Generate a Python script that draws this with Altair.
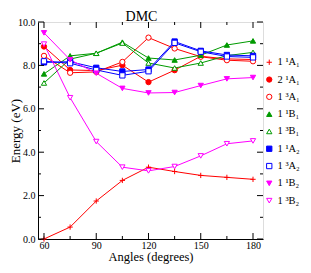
import altair as alt
import pandas as pd

angles = [60, 75, 90, 105, 120, 135, 150, 165, 180]
series_names = ["1 ¹A₁", "2 ¹A₁", "1 ³A₁", "1 ¹B₁", "1 ³B₁",
                "1 ¹A₂", "1 ³A₂", "1 ¹B₂", "1 ³B₂"]
e_11A1 = [0.00, 0.55, 1.75, 2.70, 3.31, 3.11, 2.93, 2.84, 2.75]
e_21A1 = [8.87, 7.79, 7.76, 8.01, 7.23, 7.78, 8.42, 8.30, 8.27]
e_13A1 = [8.44, 7.66, 7.70, 8.16, 9.28, 8.78, 8.40, 8.24, 8.19]
e_11B1 = [7.61, 8.44, 8.56, 9.07, 8.34, 8.25, 8.47, 8.94, 9.13]
e_13B1 = [7.19, 8.29, 8.56, 9.03, 8.11, 7.88, 8.11, 8.45, 8.60]
e_11A2 = [8.14, 8.17, 7.89, 7.72, 7.81, 9.10, 8.67, 8.48, 8.44]
e_13A2 = [8.19, 8.10, 7.79, 7.54, 7.73, 9.04, 8.63, 8.41, 8.37]
e_11B2 = [9.50, 8.26, 7.64, 6.94, 6.73, 6.75, 7.07, 7.38, 7.44]
e_13B2 = [8.98, 6.51, 4.49, 3.31, 3.14, 3.34, 3.83, 4.39, 4.52]

all_series = [e_11A1, e_21A1, e_13A1, e_11B1, e_13B1, e_11A2, e_13A2, e_11B2, e_13B2]
colors = ["#ff0000", "#ff0000", "#ff0000", "#009a00", "#009a00",
          "#0000ff", "#0000ff", "#ff00ff", "#ff00ff"]
fills = ["transparent", "#ff0000", "white", "#009a00", "white",
         "#0000ff", "white", "#ff00ff", "white"]
shapes = ["M-1,0H1M0,-1V1", "circle", "circle", "triangle-up", "triangle-up",
          "square", "square", "triangle-down", "triangle-down"]

x_major = [60, 90, 120, 150, 180]
x_minor = [75, 105, 135, 165]
y_major = [0, 2, 4, 6, 8, 10]
y_minor = [1, 3, 5, 7, 9]

rows = []
for name, vals in zip(series_names, all_series):
    for a, v in zip(angles, vals):
        rows.append({"series": name, "angle": a, "energy": v})
df = pd.DataFrame(rows)

W, H = 225, 217
FONT = "Liberation Serif"

xscale = alt.Scale(domain=[56.56, 185.74], nice=False, zero=False)
yscale = alt.Scale(domain=[0, 10], nice=False, zero=False)

x_axis = alt.Axis(values=x_major, title="Angles (degrees)", ticks=False, tickSize=0,
                  grid=False, labelPadding=1, labelFontSize=10, labelFont=FONT,
                  titleFont=FONT, titleFontSize=12.5, titleFontWeight="normal",
                  titleX=W / 2, titleY=17, titleBaseline="middle",
                  domainColor="black", labelColor="black", titleColor="black")
y_axis = alt.Axis(values=y_major, format=".1f", title="Energy (eV)", ticks=False,
                  tickSize=0, grid=False, labelPadding=3, labelFontSize=10,
                  labelFont=FONT, titleFont=FONT, titleFontSize=13,
                  titleFontWeight="normal", titleX=-23, titleY=H / 2,
                  titleBaseline="middle", titleAngle=270,
                  domainColor="black", labelColor="black", titleColor="black")

leg = alt.Legend(title=None, orient="none", legendX=226, legendY=35, padding=0,
                 labelFont=FONT, labelFontSize=10.5, labelColor="black", symbolSize=28,
                 symbolStrokeWidth=1, rowPadding=6.3, labelOffset=3)

stroke_scale = alt.Scale(domain=series_names, range=colors)

lines = alt.Chart(df).mark_line(strokeWidth=1).encode(
    x=alt.X("angle:Q", scale=xscale, axis=x_axis),
    y=alt.Y("energy:Q", scale=yscale, axis=y_axis),
    stroke=alt.Stroke("series:N", scale=stroke_scale, legend=leg),
    detail="series:N",
)

points = alt.Chart(df).mark_point(size=28, strokeWidth=1, opacity=1).encode(
    x=alt.X("angle:Q", scale=xscale),
    y=alt.Y("energy:Q", scale=yscale),
    stroke=alt.Stroke("series:N", scale=stroke_scale, legend=leg),
    fill=alt.Fill("series:N", scale=alt.Scale(domain=series_names, range=fills), legend=leg),
    shape=alt.Shape("series:N", scale=alt.Scale(domain=series_names, range=shapes), legend=leg),
)

def yticks(vals, x0, x1):
    d = pd.DataFrame({"energy": vals})
    return alt.Chart(d).mark_rule(color="black", strokeWidth=1).encode(
        y=alt.Y("energy:Q", scale=yscale), x=alt.value(x0), x2=alt.value(x1))

def xticks(vals, y0, y1):
    d = pd.DataFrame({"angle": vals})
    return alt.Chart(d).mark_rule(color="black", strokeWidth=1).encode(
        x=alt.X("angle:Q", scale=xscale), y=alt.value(y0), y2=alt.value(y1))

ticks = [
    yticks(y_major, 0, 6), yticks(y_minor, 0, 3),
    yticks(y_major, W - 6, W), yticks(y_minor, W - 3, W),
    xticks(x_major, H - 6, H), xticks(x_minor, H - 3, H),
    xticks(x_major, 0, 6), xticks(x_minor, 0, 3),
]

chart = alt.layer(lines, points, *ticks).properties(
    width=W, height=H,
    title=alt.TitleParams("DMC", font=FONT, fontSize=14, fontWeight="normal", color="black",
                          anchor="middle", frame="group", dx=-9, dy=21, offset=0,
                          baseline="bottom"),
    autosize=alt.AutoSizeParams(type="none"),
    padding={"left": 30, "top": 14, "right": 40, "bottom": 26},
).configure_view(stroke="black", strokeWidth=1).configure(background="white")

chart.save("out.html", embed_options={"renderer": "svg", "actions": False})
